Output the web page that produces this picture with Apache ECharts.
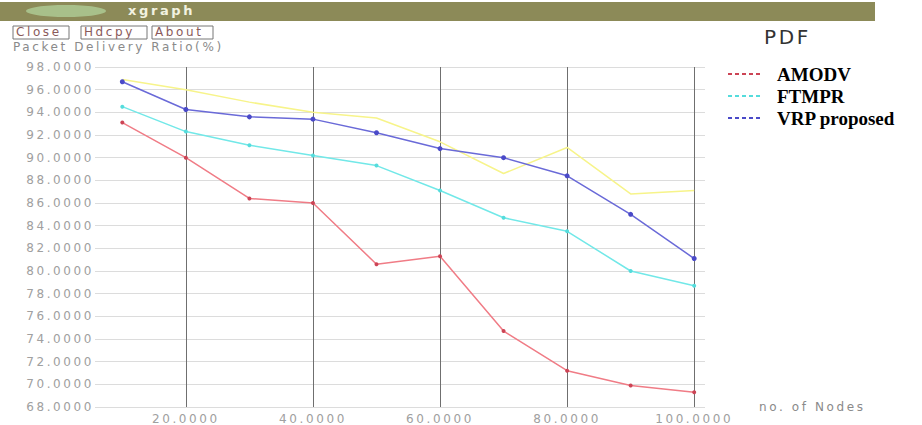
<!DOCTYPE html>
<html><head><meta charset="utf-8">
<script src="https://cdn.jsdelivr.net/npm/echarts@6/dist/echarts.min.js"></script>
<style>
html,body{margin:0;padding:0;background:#fff}
#c{width:922px;height:425px}
#c svg text[style*="DejaVu"], #c svg text[font-family*="DejaVu"]{letter-spacing:2.6px}
</style>
</head><body><div id="c"></div>
<script>
const nodes = [10,20,30,40,50,60,70,80,90,100];
const amodv = [93.1,90.0,86.4,86.0,80.6,81.3,74.7,71.2,69.9,69.3];
const ftmpr = [94.5,92.3,91.1,90.2,89.3,87.1,84.7,83.5,80.0,78.7];
const vrp   = [96.7,94.25,93.6,93.4,92.2,90.8,90.0,88.4,85.0,81.1];
const extra = [96.9,96.0,94.9,94.0,93.5,91.4,88.6,90.9,86.8,87.1];
const xTicks = [20,40,60,80,100];
const seriesNames = ['AMODV','FTMPR','VRP proposed'];

const pair = arr => nodes.map((n,i)=>[n,arr[i]]);
const dashIcon = 'path://M0,0h4v2h-4z M7,0h4v2h-4z M14,0h4v2h-4z M21,0h4v2h-4z M28,0h4v2h-4z';
const labelFont = {color:'#a0a0a0', fontFamily:'DejaVu Sans', fontSize:12};

const chart = echarts.init(document.getElementById('c'), null, {renderer:'svg'});
chart.setOption({
  animation:false,
  backgroundColor:'#ffffff',
  grid:{left:95, right:217, top:67, bottom:14, containLabel:false},
  xAxis:{
    type:'value', min:5.7, max:101.7,
    name:'no. of Nodes', nameLocation:'end', nameGap:54,
    nameTextStyle:{color:'#8a8a8a', fontFamily:'DejaVu Sans', fontSize:12, verticalAlign:'middle', padding:[4,0,0,0]},
    axisLine:{show:false},
    axisTick:{show:false, customValues:xTicks},
    axisLabel:Object.assign({customValues:xTicks, margin:6, formatter:v=>v.toFixed(4)}, labelFont),
    splitLine:{show:true, lineStyle:{color:'#6f6f6f', width:1}}
  },
  yAxis:{
    type:'value', min:68, max:98, interval:2,
    axisLine:{show:false}, axisTick:{show:false},
    axisLabel:Object.assign({margin:1, formatter:v=>v.toFixed(4)}, labelFont),
    splitLine:{show:true, lineStyle:{color:'#dcdcdc', width:1}}
  },
  legend:{
    data:seriesNames, orient:'vertical', left:728, top:64, itemGap:2, padding:0,
    itemWidth:34, itemHeight:2, icon:dashIcon,
    textStyle:{color:'#000', fontFamily:'Liberation Serif', fontWeight:'bold', fontSize:19, lineHeight:20, padding:[0,0,0,11]}
  },
  graphic:[
    {type:'rect', shape:{x:0,y:2,width:875,height:19}, style:{fill:'#8c8a58'}, z:10},
    {type:'ellipse', shape:{cx:66,cy:11,rx:40,ry:6}, style:{fill:'#a8c08a'}, z:11},
    {type:'text', x:128, y:4, style:{text:'xgraph', fill:'#f2f2e0', font:'bold 13px DejaVu Sans'}, z:11},
    {type:'rect', shape:{x:13,y:26,width:56,height:13}, style:{fill:'#fff', stroke:'#777', lineWidth:1}, z:10},
    {type:'text', x:16, y:26, style:{text:'Close', fill:'#8a5a5a', font:'12px DejaVu Sans'}, z:11},
    {type:'rect', shape:{x:81,y:26,width:66,height:13}, style:{fill:'#fff', stroke:'#777', lineWidth:1}, z:10},
    {type:'text', x:84, y:26, style:{text:'Hdcpy', fill:'#8a5a5a', font:'12px DejaVu Sans'}, z:11},
    {type:'rect', shape:{x:152,y:26,width:61,height:13}, style:{fill:'#fff', stroke:'#777', lineWidth:1}, z:10},
    {type:'text', x:155, y:26, style:{text:'About', fill:'#8a5a5a', font:'12px DejaVu Sans'}, z:11},
    {type:'text', x:13, y:41, style:{text:'Packet Delivery Ratio(%)', fill:'#8a8a8a', font:'12px DejaVu Sans'}, z:11},
    {type:'text', x:764, y:27, style:{text:'PDF', fill:'#333', font:'20px DejaVu Sans'}, z:11}
  ],
  series:[
    {name:'extra', type:'line', data:pair(extra), showSymbol:false, symbol:'none',
     lineStyle:{color:'#f7f48a', width:1.5}, itemStyle:{color:'#f7f48a'}, z:2},
    {name:'AMODV', type:'line', data:pair(amodv), symbol:'circle', symbolSize:4,
     lineStyle:{color:'#f07c86', width:1.5}, itemStyle:{color:'#cc4455'}, z:3},
    {name:'FTMPR', type:'line', data:pair(ftmpr), symbol:'circle', symbolSize:4,
     lineStyle:{color:'#72e8e8', width:1.5}, itemStyle:{color:'#55dcdc'}, z:3},
    {name:'VRP proposed', type:'line', data:pair(vrp), symbol:'circle', symbolSize:5,
     lineStyle:{color:'#6a6ad8', width:1.5}, itemStyle:{color:'#4a4ac8'}, z:4}
  ]
});
</script></body></html>
